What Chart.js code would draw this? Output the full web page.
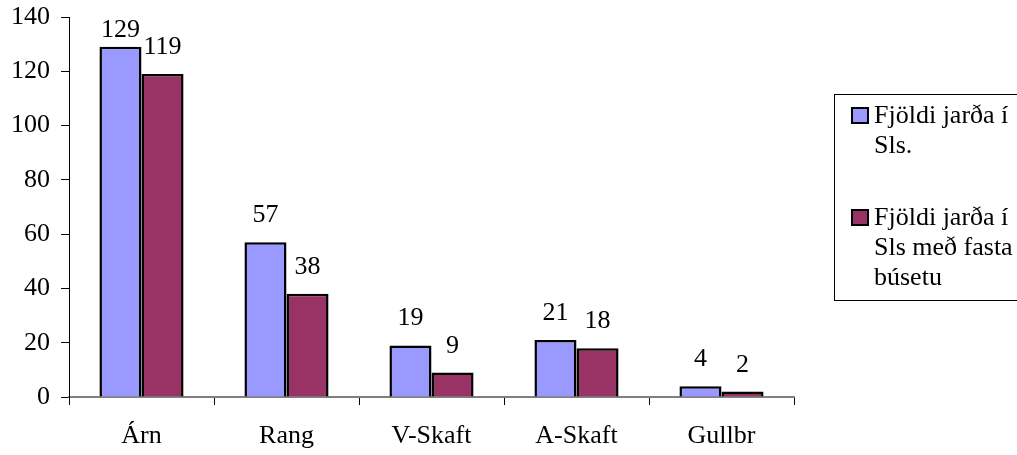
<!DOCTYPE html>
<html>
<head>
<meta charset="utf-8">
<script src="https://cdn.jsdelivr.net/npm/chart.js@4"></script>
<style>
  body { margin: 0; background: #fff; overflow: hidden; }
  #wrap { position: relative; width: 1017px; height: 455px; }
  #legend {
    position: absolute; left: 834px; top: 94px; width: 220px; height: 207px;
    border: 1px solid #000; box-sizing: border-box;
    font-family: "Liberation Serif", "Times New Roman", serif; font-size: 26px; line-height: 30px; color: #000;
  }
  .item { position: absolute; left: 39px; white-space: nowrap; }
  .box { position: absolute; left: -23px; top: 7px; width: 18px; height: 17px; border: 2px solid #000; box-sizing: border-box; }
</style>
</head>
<body>
<div id="wrap">
  <canvas id="barChart" width="1017" height="455"></canvas>
  <div id="legend">
    <div class="item" style="top:5px"><span class="box" style="background:#9999FF"></span>Fjöldi jarða í<br>Sls.</div>
    <div class="item" style="top:107px"><span class="box" style="background:#993366"></span>Fjöldi jarða í<br>Sls með fasta<br>búsetu</div>
  </div>
</div>
<script>
var regions = ["Árn", "Rang", "V-Skaft", "A-Skaft", "Gullbr"];  // categories
var allFarms = [129, 57, 19, 21, 4];     // Fjöldi jarða í Sls.
var settledFarms = [119, 38, 9, 18, 2];  // ... með fasta búsetu
var yTicks = [0, 20, 40, 60, 80, 100, 120, 140];

var serif = "'Liberation Serif', 'Times New Roman', serif";

// numbers above each bar (kept inside the top of the canvas like excel does)
var valueLabels = {
    id: 'valueLabels',
    afterDatasetsDraw: function(chart) {
        var c = chart.ctx;
        c.save();
        c.font = "26px " + serif;
        c.fillStyle = "#000";
        c.textAlign = "center";
        c.textBaseline = "alphabetic";
        chart.data.datasets.forEach(function(ds, i) {
            chart.getDatasetMeta(i).data.forEach(function(bar, j) {
                c.fillText(ds.data[j], bar.x, Math.max(bar.y - 20, 37));
            });
        });
        c.restore();
    }
};

var ctx = document.getElementById('barChart').getContext('2d');

var chart = new Chart(ctx, {
    type: 'bar',
    data: {
        labels: regions,
        datasets: [
            {
                label: "Fjöldi jarða í Sls.",
                data: allFarms,
                backgroundColor: "#9999FF",
                borderColor: "#000",
                borderWidth: 2.5
            },
            {
                label: "Fjöldi jarða í Sls með fasta búsetu",
                data: settledFarms,
                backgroundColor: "#993366",
                borderColor: "#000",
                borderWidth: 2.5
            }
        ]
    },
    options: {
        responsive: false,
        animation: false,
        layout: { padding: { top: 17, right: 223, left: 0, bottom: 0 } },
        categoryPercentage: 0.58,
        barPercentage: 1.0,
        plugins: {
            legend: { display: false },
            tooltip: { enabled: false }
        },
        scales: {
            x: {
                grid: { drawOnChartArea: false, drawTicks: true, tickLength: 8, color: "#000", offset: true },
                border: { color: "#808080", width: 2 },
                ticks: { color: "#000", font: { family: serif, size: 26 }, padding: 16 },
                afterFit: function(s) { s.height = 58; }
            },
            y: {
                min: 0, max: 140,
                afterBuildTicks: function(s) { s.ticks = yTicks.map(function(v) { return { value: v }; }); },
                grid: { drawOnChartArea: false, drawTicks: true, tickLength: 8, color: "#000" },
                border: { color: "#000", width: 1 },
                ticks: { color: "#000", font: { family: serif, size: 26, lineHeight: 0.5 }, padding: 11 },
                afterFit: function(s) { s.width = 69; s.paddingTop = 0; s.paddingBottom = 0; }
            }
        }
    },
    plugins: [valueLabels]
});
</script>
</body>
</html>
